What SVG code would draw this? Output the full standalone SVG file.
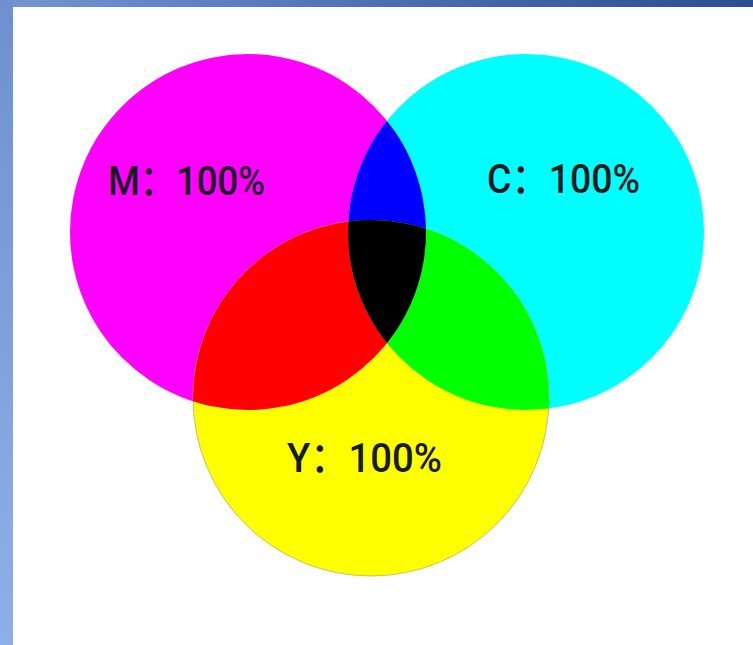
<svg xmlns="http://www.w3.org/2000/svg" width="753" height="645" viewBox="0 0 753 645">
<defs>
<linearGradient id="topg" x1="0" y1="0" x2="1" y2="0">
<stop offset="0" stop-color="#7895d2"/>
<stop offset="0.5" stop-color="#4d6fb4"/>
<stop offset="1" stop-color="#2c4d92"/>
</linearGradient>
<linearGradient id="leftg" x1="0" y1="0" x2="0" y2="1">
<stop offset="0" stop-color="#6f90d0"/>
<stop offset="1" stop-color="#8fb0e6"/>
</linearGradient>
<clipPath id="clipM"><circle cx="248" cy="232" r="178"/></clipPath>
<clipPath id="clipC"><circle cx="526" cy="232" r="178"/></clipPath>
</defs>
<style>
.lbl{font-family:Roboto,"Liberation Sans","Noto Sans CJK SC",sans-serif;font-size:41px;font-weight:500;fill:#18181f;}
</style>
<rect x="0" y="0" width="753" height="645" fill="#ffffff"/>
<rect x="0" y="0" width="753" height="7" fill="url(#topg)"/>
<rect x="0" y="0" width="13" height="645" fill="url(#leftg)"/>
<g id="circle-m"><circle cx="248" cy="232" r="178" fill="#ff00ff"/></g>
<g id="circle-c"><circle cx="526" cy="232" r="178" fill="#00ffff"/></g>
<g id="circle-y"><circle cx="371" cy="398" r="178" fill="#ffff00" stroke="#b8b060" stroke-width="0.8"/></g>
<g id="overlap-mc" clip-path="url(#clipM)"><circle cx="526" cy="232" r="178" fill="#0000ff"/></g>
<g id="overlap-my" clip-path="url(#clipM)"><circle cx="371" cy="398" r="178" fill="#ff0000"/></g>
<g id="overlap-cy" clip-path="url(#clipC)"><circle cx="371" cy="398" r="178" fill="#00ff00"/></g>
<g id="overlap-all" clip-path="url(#clipM)"><g clip-path="url(#clipC)"><circle cx="371" cy="398" r="178" fill="#000000"/></g></g>
<g id="label-m"><text class="lbl" x="108" y="195" textLength="157" lengthAdjust="spacingAndGlyphs">M：100%</text></g>
<g id="label-c"><text class="lbl" x="487" y="193" textLength="153" lengthAdjust="spacingAndGlyphs">C：100%</text></g>
<g id="label-y"><text class="lbl" x="287" y="472" textLength="155" lengthAdjust="spacingAndGlyphs">Y：100%</text></g>
</svg>
